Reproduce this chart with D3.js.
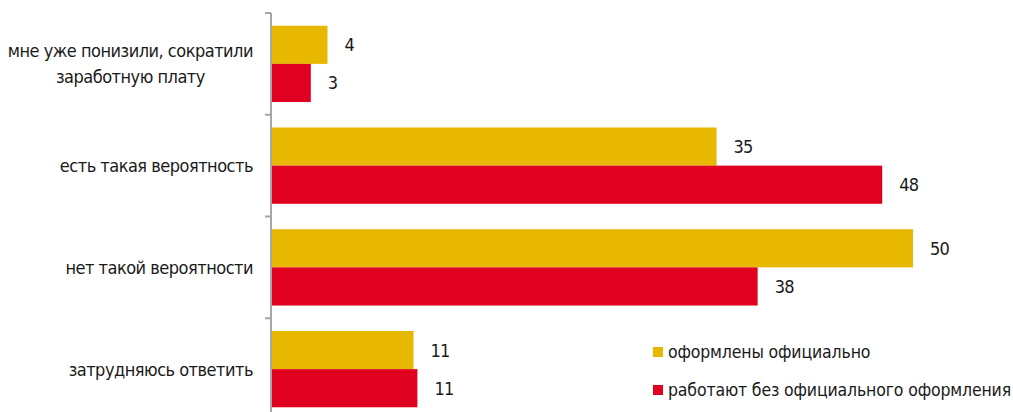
<!DOCTYPE html>
<meta charset="utf-8">
<script src="https://cdn.jsdelivr.net/npm/d3@7"></script>
<style>
body { margin: 0; background: #fff; }
text {
  font-family: "DejaVu Sans Condensed", "Liberation Sans Narrow", sans-serif;
  font-stretch: condensed;
  fill: #1a1a1a;
}
</style>
<body>
<script>

var categories = [
  ["мне уже понизили, сократили", "заработную плату"],
  ["есть такая вероятность"],
  ["нет такой вероятности"],
  ["затрудняюсь ответить"]
];
var seriesNames = ["оформлены официально", "работают без официального оформления"];
var official = [4.4, 34.7, 50, 11.1];
var unofficial = [3.1, 47.6, 37.9, 11.4];
var colors = ["#e8b800", "#e0001f"];

var width = 1013,
    height = 412;

var svg = d3.select("body").append("svg")
    .attr("width", width)
    .attr("height", height);

var x = d3.scaleLinear().domain([0, 50]).range([271, 913]);

var y = d3.scaleBand()
    .domain(d3.range(categories.length))
    .range([13, 420])
    .paddingInner(0.25)
    .paddingOuter(0.125);

var step = y.step();

// bars
var series = [official, unofficial];
series.forEach(function(vals, s) {
  svg.append("g").selectAll("rect")
    .data(vals)
    .enter().append("rect")
    .attr("x", x(0))
    .attr("y", function(d, i) { return y(i) + s * y.bandwidth() / 2; })
    .attr("width", function(d) { return x(d) - x(0); })
    .attr("height", y.bandwidth() / 2)
    .attr("fill", colors[s]);

  svg.append("g").selectAll("text")
    .data(vals)
    .enter().append("text")
    .attr("x", function(d) { return x(d) + 17; })
    .attr("y", function(d, i) { return y(i) + s * y.bandwidth() / 2 + y.bandwidth() / 4; })
    .attr("dy", "0.36em")
    .style("font-size", "18px")
    .style("letter-spacing", "-0.8px")
    .text(function(d) { return Math.round(d); });
});

// axis line with category ticks
var axis = svg.append("g").attr("stroke", "#a6a6a6").attr("stroke-width", 2);
axis.append("line")
    .attr("x1", x(0)).attr("x2", x(0))
    .attr("y1", 13).attr("y2", 420);
d3.range(categories.length + 1).forEach(function(i) {
  var yy = 13 + i * step;
  axis.append("line")
    .attr("x1", x(0) - 6).attr("x2", x(0))
    .attr("y1", yy).attr("y2", yy);
});

// category labels
categories.forEach(function(lines, i) {
  var cy = y(i) + y.bandwidth() / 2;
  var lh = 26;
  var t = svg.append("text")
      .style("font-size", "18px")
      .style("letter-spacing", "-0.5px")
      .attr("text-anchor", "end");
  lines.forEach(function(line, k) {
    t.append("tspan")
      .attr("x", 253)
      .attr("y", cy + (k - (lines.length - 1) / 2) * lh)
      .attr("dy", "0.36em")
      .text(line);
  });
  if (lines.length > 1) {
    // center the wrapped lines against each other
    var w0 = t.select("tspan").node().getComputedTextLength();
    t.selectAll("tspan").attr("text-anchor", "middle").attr("x", 253 - w0 / 2);
  }
});

// legend
seriesNames.forEach(function(name, s) {
  var ly = 352 + s * 38;
  svg.append("rect")
    .attr("x", 653).attr("y", ly - 5)
    .attr("width", 10).attr("height", 10)
    .attr("fill", colors[s]);
  svg.append("text")
    .attr("x", 668).attr("y", ly)
    .attr("dy", "0.36em")
    .style("font-size", "17.5px")
    .style("letter-spacing", "-0.15px")
    .text(name);
});

</script>
</body>
